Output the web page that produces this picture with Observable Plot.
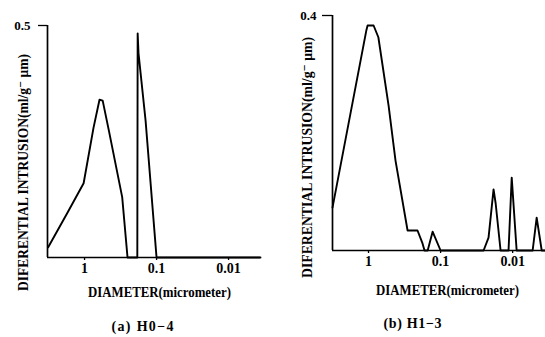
<!DOCTYPE html>
<html>
<head>
<meta charset="utf-8">
<script src="https://cdn.jsdelivr.net/npm/d3@7"></script>
<script src="https://cdn.jsdelivr.net/npm/@observablehq/plot@0.6"></script>
<style>
  html, body { margin: 0; padding: 0; background: #fff; }
  #wrap { position: relative; width: 545px; height: 337px; overflow: hidden; }
  #pa { position: absolute; left: 0; top: 0; }
  #pb { position: absolute; left: 272px; top: 0; }
  svg { overflow: visible; }
</style>
</head>
<body>
<div id="wrap"><div id="pa"></div><div id="pb"></div></div>
<script>
// ---- data (diameter in micrometer, differential intrusion in ml/g·μm) ----
const xTicks = [1, 0.1, 0.01];
const xTickLabels = ["1", "0.1", "0.01"];

// (a) H0-4
const diamA = [3.2, 1.72, 1.03, 0.75, 0.62, 0.56, 0.46, 0.30, 0.253, 0.185, 0.183, 0.178, 0.142, 0.1, 0.0036];
const valA  = [0.022, 0.097, 0.16, 0.28, 0.34, 0.338, 0.274, 0.13, 0, 0, 0.483, 0.44, 0.295, 0, 0];
const yTicksA = [0.5];
const yTickLabelsA = ["0.5"];

// (b) H1-3
const diamB = [3.16, 1.07, 1.03, 0.85, 0.73, 0.527, 0.422, 0.287, 0.209, 0.178, 0.167, 0.151, 0.129, 0.1,
               0.0253, 0.0216, 0.0184, 0.0172, 0.0147, 0.0114, 0.0103, 0.0088, 0.00528, 0.00464, 0.00395, 0.0035];
const valB  = [0.073, 0.375, 0.383, 0.383, 0.363, 0.247, 0.153, 0.034, 0.034, 0.012, 0, 0, 0.032, 0,
               0, 0.022, 0.104, 0.08, 0, 0, 0.124, 0, 0, 0.056, 0, 0];
const yTicksB = [0.4];
const yTickLabelsB = ["0.4"];

const yLabel = "DIFERENTIAL INTRUSION(ml/g⁻ μm)";
const xLabel = "DIAMETER(micrometer)";
const captionA = "(a) H0−4";
const captionB = "(b) H1−3";

const font = "'Liberation Serif', 'DejaVu Serif', serif";

function panel(opts) {
  const data = opts.diam.map((d, i) => ({d, v: opts.val[i]}));
  const txt = {textAnchor: "middle", lineAnchor: "middle", fontSize: 14, fill: "#000"};
  const svg = Plot.plot({
    width: opts.width, height: 337,
    marginLeft: opts.ml, marginRight: opts.mr, marginTop: opts.mt, marginBottom: 337 - opts.base,
    style: {fontFamily: font, color: "#000", background: "#fff", overflow: "visible"},
    x: {type: "log", domain: opts.xdom},
    y: {domain: opts.ydom},
    marks: [
      Plot.axisX({ticks: xTicks, tickFormat: d => xTickLabels[xTicks.indexOf(d)], tickSize: 3, tickPadding: 3,
                  label: null, fontSize: 14, fontWeight: "bold", strokeWidth: 1.3}),
      Plot.axisY({ticks: opts.yTicks, tickFormat: d => opts.yTickLabels[opts.yTicks.indexOf(d)],
                  tickSize: opts.tickSizeY, tickPadding: opts.tickPadY, label: null, fontSize: 13, fontWeight: "bold", strokeWidth: 1.3}),
      Plot.ruleY([0], {strokeWidth: 1.6}),
      Plot.ruleX([opts.xdom[0]], {y1: opts.ydom[0], y2: opts.ydom[1], strokeWidth: 1.7}),
      Plot.line(data, {x: "d", y: "v", stroke: "#000", strokeWidth: 1.9, strokeLinejoin: "round"}),
      Plot.text([yLabel], {...txt, frameAnchor: "left", rotate: -90, dx: opts.ylab[0], dy: opts.ylab[1], fontWeight: "bold"}),
      Plot.text([xLabel], {...txt, frameAnchor: "bottom", dx: opts.xlab[0], dy: opts.xlab[1], fontWeight: "bold"}),
      Plot.text([opts.caption], {...txt, frameAnchor: "bottom", dx: opts.cap[0], dy: opts.cap[1], fontWeight: "bold"})
    ]
  });
  const s = d3.select(svg);
  s.selectAll("text").each(function() {
    const t = this.textContent;
    if (t === yLabel) d3.select(this).attr("textLength", opts.ylen).attr("lengthAdjust", "spacingAndGlyphs");
    if (t === xLabel) d3.select(this).attr("textLength", 143).attr("lengthAdjust", "spacingAndGlyphs");
    if (t === opts.caption) d3.select(this).attr("textLength", opts.caplen).attr("lengthAdjust", "spacing");
  });
  return svg;
}

document.getElementById("pa").appendChild(panel({
  width: 272, ml: 47, mr: 12, mt: 25, base: 257,
  xdom: [3.27, 0.0036], ydom: [0, 0.5],
  diam: diamA, val: valA, yTicks: yTicksA, yTickLabels: yTickLabelsA,
  tickSizeY: 9, tickPadY: 8,
  ylab: [-24, 31], ylen: 237,
  xlab: [5.5, 35], cap: [-11.5, 69], caption: captionA, caplen: 62
}));

document.getElementById("pb").appendChild(panel({
  width: 273, ml: 60, mr: 0, mt: 15, base: 250,
  xdom: [3.16, 0.0035], ydom: [0, 0.4],
  diam: diamB, val: valB, yTicks: yTicksB, yTickLabels: yTickLabelsB,
  tickSizeY: 10, tickPadY: 6,
  ylab: [-25, 24.5], ylen: 241,
  xlab: [8.5, 40], cap: [-26.5, 73], caption: captionB, caplen: 58
}));
</script>
</body>
</html>
